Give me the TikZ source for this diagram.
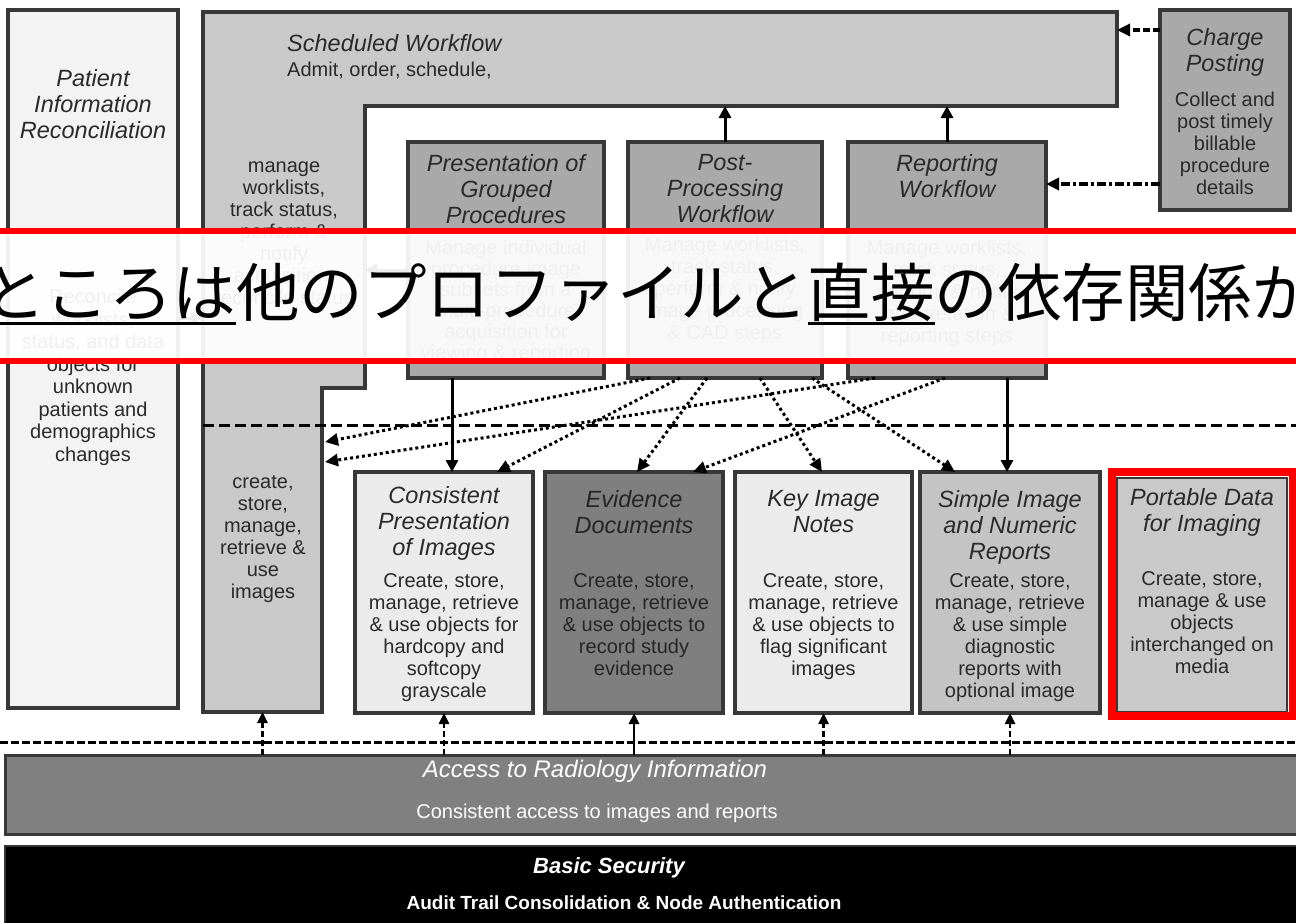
\documentclass[tikz,border=0pt]{standalone}
\usepackage{fontspec}
\setmainfont{Liberation Sans}
\newfontfamily\jpfont{Noto Sans CJK JP}
\usetikzlibrary{arrows.meta,calc}
\definecolor{bd}{HTML}{383838}
\definecolor{txt}{HTML}{2A2A2A}
\definecolor{patfill}{HTML}{F3F3F3}
\definecolor{schedfill}{HTML}{C9C9C9}
\definecolor{midfill}{HTML}{A9A9A9}
\definecolor{litefill}{HTML}{EBEBEB}
\definecolor{edfill}{HTML}{7F7F7F}
\definecolor{sinrfill}{HTML}{C4C4C4}
\definecolor{accfill}{HTML}{808080}
\definecolor{bannerred}{HTML}{FF0000}
\newcommand\myul[1]{\setbox0\hbox{#1}\rlap{\rule[-9pt]{\wd0}{3pt}}\box0}
\begin{document}
\begin{tikzpicture}[x=1pt,y=-1pt,
  box/.style={draw=bd, line width=4pt, inner sep=0pt, outer sep=0pt, rectangle},
  ghost/.style={inner sep=0pt, outer sep=0pt, rectangle},
  ttl/.style={font=\fontsize{23.5}{26}\selectfont\itshape, align=center, inner sep=0pt, anchor=north, text=txt},
  bdy/.style={font=\fontsize{20}{22}\selectfont, align=center, inner sep=0pt, anchor=north, text=txt},
  dotarrow/.style={line width=3pt, dash pattern=on 3pt off 3pt, -{Triangle[length=13pt,width=12pt]}},
  solidarrow/.style={line width=3pt, -{Triangle[length=12pt,width=12pt]}},
  dasharrow/.style={line width=3.5pt, dash pattern=on 7pt off 3pt, -{Triangle[length=13pt,width=12pt]}},
  uparrow/.style={line width=2.5pt, dash pattern=on 6pt off 3pt, -{Triangle[length=11pt,width=10pt]}},
  hdash/.style={line width=3pt, dash pattern=on 11pt off 5pt},
]
\useasboundingbox (0,0) rectangle (1296,922);
\fill[white] (0,0) rectangle (1296,922);

% Patient Information Reconciliation
\node[box, fill=patfill, minimum width=170pt, minimum height=698pt] (pat) at (93,359) {};
\node[ttl] at (93,69) {Patient\\Information\\Reconciliation};
\node[bdy, font=\fontsize{20}{22.5}\selectfont] at (93,289) {Reconcile\\worklists,\\status, and data\\objects for\\unknown\\patients and\\demographics\\changes};

% Scheduled Workflow (L-shaped)
\draw[fill=schedfill, draw=bd, line width=4pt, line join=miter]
  (203,12) -- (1117,12) -- (1117,106) -- (365,106) -- (365,388) -- (322,388) -- (322,712) -- (203,712) -- cycle;
\node[ghost, minimum width=914pt, minimum height=94pt] (sched) at (660,59) {};
\node[ghost, minimum width=162pt, minimum height=282pt] (schedup) at (284,247) {};
\node[ghost, minimum width=119pt, minimum height=324pt] (schedcol) at (262.5,550) {};
\node[ttl, anchor=north west] at (287,34) {Scheduled Workflow};
\node[bdy, anchor=north west] at (287,61.5) {Admit, order, schedule,};
\node[bdy] at (284,162) {manage\\worklists,\\track status,\\perform \&\\notify\\acquisition,\\reconcile status};
\node[bdy] at (263,475) {create,\\store,\\manage,\\retrieve \&\\use\\images};

% Upper middle boxes
\node[box, fill=midfill, minimum width=196pt, minimum height=236pt] (pg) at (506,260) {};
\node[ttl] at (506,154) {Presentation of\\Grouped\\Procedures};
\node[bdy, font=\fontsize{20}{21}\selectfont] at (506,240) {Manage individual\\procedure image\\subsets from a\\multi-procedure\\acquisition for\\viewing \& reporting};

\node[box, fill=midfill, minimum width=194pt, minimum height=236pt] (pp) at (725,260) {};
\node[ttl] at (725,154) {Post-\\Processing\\Workflow};
\node[bdy] at (725,237) {Manage worklists,\\track status,\\perform \& notify\\image processing\\\& CAD steps};

\node[box, fill=midfill, minimum width=198pt, minimum height=236pt] (rw) at (947,260) {};
\node[ttl] at (947,154) {Reporting\\Workflow};
\node[bdy] at (947,240) {Manage worklists,\\track status,\\perform \& notify\\interpretation \&\\reporting steps};

% Charge Posting
\node[box, fill=midfill, minimum width=130pt, minimum height=200pt] (charge) at (1225,110) {};
\node[ttl] at (1225,28) {Charge\\Posting};
\node[bdy] at (1225,92) {Collect and\\post timely\\billable\\procedure\\details};

% Lower boxes
\node[box, fill=litefill, minimum width=178pt, minimum height=241pt] (cpi) at (444,592.5) {};
\node[ttl] at (444,486) {Consistent\\Presentation\\of Images};
\node[bdy] at (444,573) {Create, store,\\manage, retrieve\\\& use objects for\\hardcopy and\\softcopy\\grayscale};

\node[box, fill=edfill, minimum width=178pt, minimum height=241pt] (ed) at (634,592.5) {};
\node[ttl, text=black!85] at (634,490) {Evidence\\Documents};
\node[bdy, text=black!85] at (634,573) {Create, store,\\manage, retrieve\\\& use objects to\\record study\\evidence};

\node[box, fill=litefill, minimum width=177pt, minimum height=241pt] (kin) at (823.5,592.5) {};
\node[ttl] at (823.5,490) {Key Image\\Notes};
\node[bdy] at (823.5,573) {Create, store,\\manage, retrieve\\\& use objects to\\flag significant\\images};

\node[box, fill=sinrfill, minimum width=180pt, minimum height=241pt] (sinr) at (1010,592.5) {};
\node[ttl] at (1010,490) {Simple Image\\and Numeric\\Reports};
\node[bdy] at (1010,573) {Create, store,\\manage, retrieve\\\& use simple\\diagnostic\\reports with\\optional image};

\node[box, fill=schedfill, line width=2pt, minimum width=170pt, minimum height=234pt] (pdi) at (1202,595) {};
\draw[bannerred, line width=8pt] (1112,472) rectangle (1293,716);
\node[ttl] at (1202,488) {Portable Data\\for Imaging};
\node[bdy] at (1202,571) {Create, store,\\manage \& use\\objects\\interchanged on\\media};

% Access to Radiology Information
\node[draw=bd, fill=accfill, line width=3pt, inner sep=0pt, outer sep=0pt, minimum width=1296pt, minimum height=79pt] (acc) at (653,794.5) {};
\node[font=\fontsize{24}{26}\selectfont\itshape, text=white, inner sep=0pt] at (595,771) {Access to Radiology Information};
\node[font=\fontsize{20}{22}\selectfont, text=white, inner sep=0pt] at (597,813) {Consistent access to images and reports};

% Basic Security
\node[fill=black, draw=black!80, line width=2pt, inner sep=0pt, outer sep=0pt, minimum width=1296pt, minimum height=79pt] (sec) at (653,885.5) {};
\node[font=\fontsize{22}{24}\selectfont\bfseries\itshape, text=white, inner sep=0pt] at (609,868) {Basic Security};
\node[font=\fontsize{19}{22}\selectfont\bfseries, text=white, inner sep=0pt] at (624,903) {Audit Trail Consolidation \& Node Authentication};

% dashed separator lines
\coordinate (dl1) at (1296,425);
\draw[hdash] (schedcol.west |- dl1) -- (dl1);
\coordinate (dl2a) at (0,742);
\coordinate (dl2b) at (1296,742);
\draw[line width=3pt, dash pattern=on 8pt off 3pt] (dl2a) -- (dl2b);

% Charge posting arrows
\draw[dasharrow] ($(charge.north west)+(0,20)$) -- ($(sched.north east)+(0,18)$);
\draw[dasharrow, dash pattern=on 9pt off 3pt on 3pt off 3pt] ($(charge.north west)+(0,174)$) -- ($(rw.north east)+(0,42)$);

% solid arrows
\draw[solidarrow] (pp.north) -- (pp.north |- sched.south);
\draw[solidarrow] (rw.north) -- (rw.north |- sched.south);
\draw[solidarrow] ($(pg.south west)+(44,0)$) coordinate (a1) -- (a1 |- cpi.north);
\draw[solidarrow] ($(rw.south west)+(159,0)$) coordinate (a2) -- (a2 |- sinr.north);
\draw[solidarrow] ($(pg.north west)+(0,128)$) coordinate (a3) -- (a3 -| schedup.east);
\draw[solidarrow] ($(pat.north east)+(0,308)$) coordinate (a4) -- (a4 -| schedup.west);

% dotted arrows
\draw[dotarrow] ($(pp.south west)+(22,0)$) -- ($(schedcol.north east)+(3,54)$);
\draw[dotarrow] ($(rw.south west)+(27,0)$) -- ($(schedcol.north east)+(3,74)$);
\draw[dotarrow] ($(pp.south west)+(52,0)$) -- ($(cpi.north west)+(142,0)$);
\draw[dotarrow] ($(pp.south west)+(79,0)$) -- ($(ed.north west)+(92,0)$);
\draw[dotarrow] ($(pp.south west)+(132,0)$) -- ($(kin.north west)+(87,0)$);
\draw[dotarrow] ($(pp.south west)+(184,0)$) -- ($(sinr.north west)+(35,0)$);
\draw[dotarrow] ($(rw.south west)+(97,0)$) -- ($(ed.north west)+(148,0)$);

% up arrows from Access
\draw[uparrow] (schedcol.south |- acc.north) -- (schedcol.south);
\draw[uparrow] (cpi.south |- acc.north) -- (cpi.south);
\draw[uparrow, solid] (ed.south |- acc.north) -- (ed.south);
\draw[uparrow] (kin.south |- acc.north) -- (kin.south);
\draw[uparrow] (sinr.south |- acc.north) -- (sinr.south);

% banner overlay
\fill[white, opacity=0.93] (0,234) rectangle (1296,358);
\fill[bannerred] (0,228) rectangle (1296,234);
\fill[bannerred] (0,358) rectangle (1296,364);
\begin{scope}
\clip (0,234) rectangle (1296,358);
\node[font=\jpfont\fontsize{63.5}{64}\selectfont, inner sep=0pt, anchor=base west] (jp) at (-18,316) {\myul{ところは}他のプロファイルと\myul{直接}の依存関係が};
\end{scope}
\end{tikzpicture}
\end{document}
